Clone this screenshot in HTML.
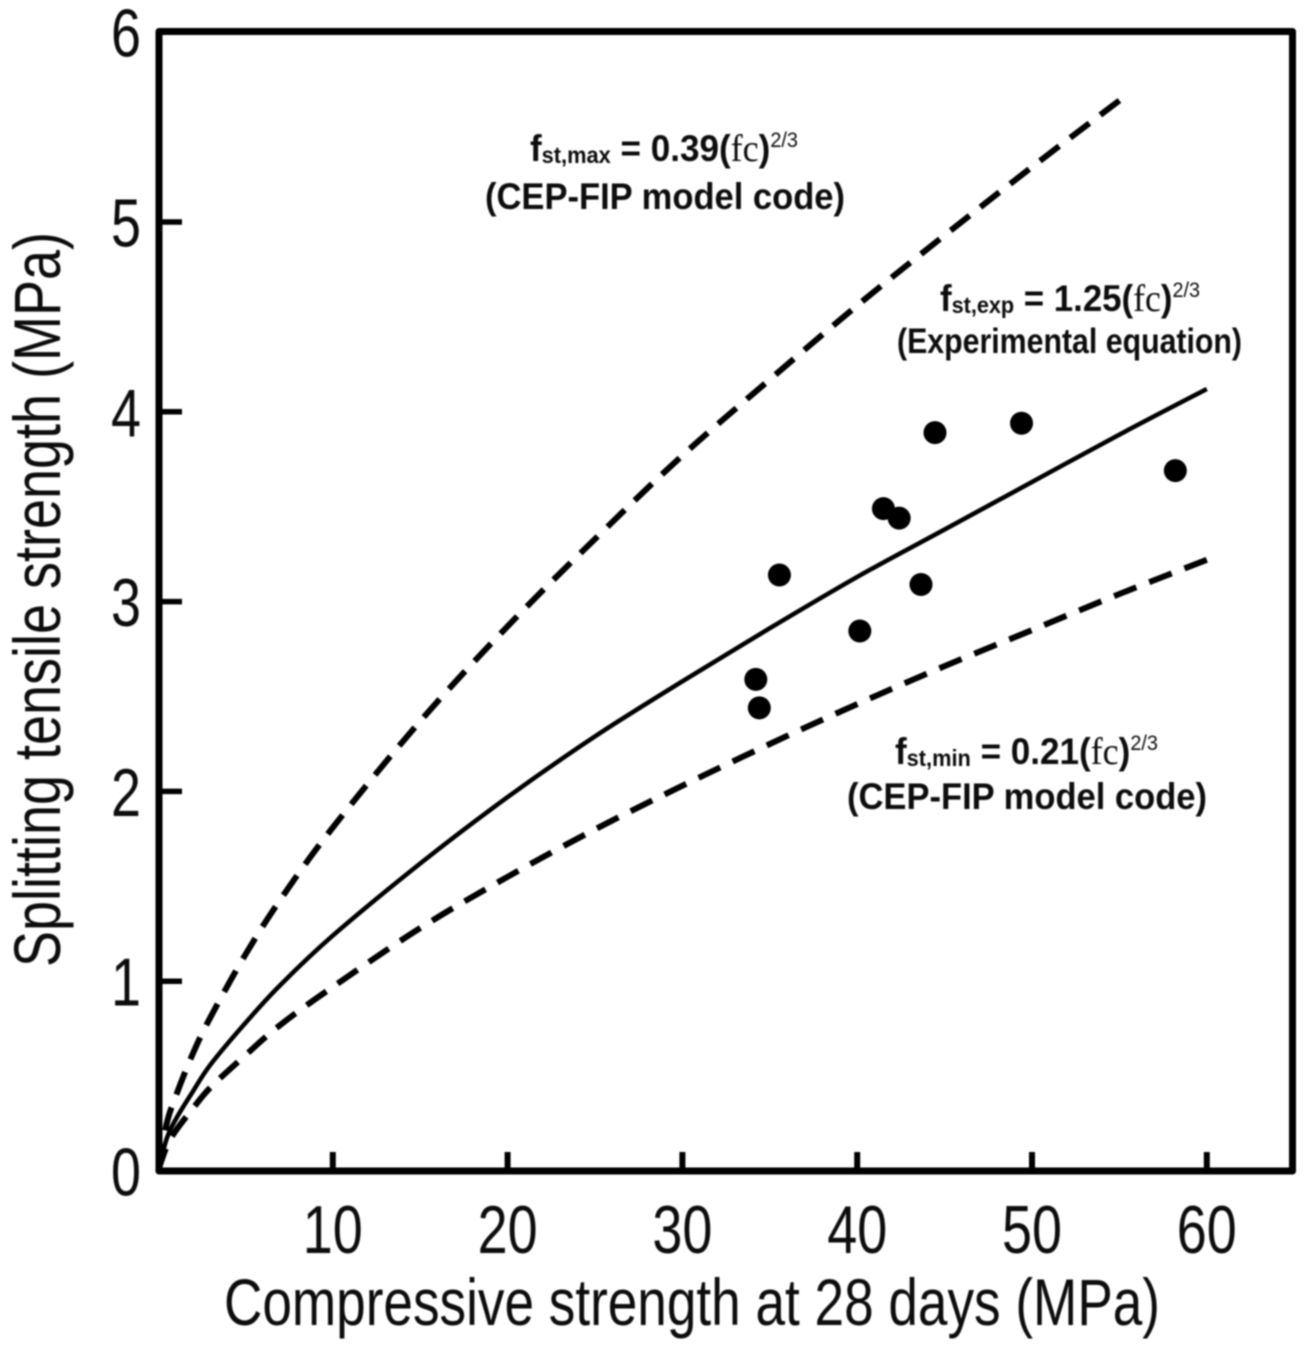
<!DOCTYPE html>
<html lang="en">
<head>
<meta charset="utf-8">
<title>Splitting tensile strength vs compressive strength</title>
<style>
html,body{margin:0;padding:0;background:#fff;width:1312px;height:1349px;overflow:hidden}
svg{display:block}
text{fill:#111;font-family:"Liberation Sans",sans-serif}
.tick{font-size:68px}
.title{font-size:66px}
.eq{font-size:37px;font-weight:bold}
.sub{font-size:23px;font-weight:bold}
.sup{font-size:21px;font-weight:normal}
.ser{font-family:"Liberation Serif",serif;font-weight:normal;font-size:38px}
</style>
</head>
<body>
<svg id="chart" width="1312" height="1349" viewBox="0 0 1312 1349" xmlns="http://www.w3.org/2000/svg">
  <defs><filter id="soft" x="-2%" y="-2%" width="104%" height="104%"><feGaussianBlur stdDeviation="0.8"/></filter></defs>
  <g id="root" filter="url(#soft)">
    <rect x="159" y="31.5" width="1133.5" height="1139.5" fill="none" stroke="#000" stroke-width="7" stroke-linejoin="round"/>
    <g id="ticks"></g>
    <g id="series"></g>
    <g id="points"></g>
    <text class="title" x="224" y="1325" textLength="936" lengthAdjust="spacingAndGlyphs">Compressive strength at 28 days (MPa)</text>
    <text class="title" transform="translate(60 967) rotate(-90)" x="0" y="0" textLength="735" lengthAdjust="spacingAndGlyphs">Splitting tensile strength (MPa)</text>

    <text class="eq" x="530" y="161" textLength="268" lengthAdjust="spacingAndGlyphs">f<tspan class="sub" dy="2">st,max</tspan><tspan dy="-2"> = 0.39(</tspan><tspan class="ser">fc</tspan>)<tspan class="sup" dy="-14">2/3</tspan></text>
    <text class="eq" x="485" y="209" textLength="360" lengthAdjust="spacingAndGlyphs">(CEP-FIP model code)</text>

    <text class="eq" x="940" y="311" textLength="260" lengthAdjust="spacingAndGlyphs">f<tspan class="sub" dy="2">st,exp</tspan><tspan dy="-2"> = 1.25(</tspan><tspan class="ser">fc</tspan>)<tspan class="sup" dy="-14">2/3</tspan></text>
    <text class="eq" x="897" y="353" textLength="345" lengthAdjust="spacingAndGlyphs" style="font-size:35px">(Experimental equation)</text>

    <text class="eq" x="895" y="764" textLength="263" lengthAdjust="spacingAndGlyphs">f<tspan class="sub" dy="2">st,min</tspan><tspan dy="-2"> = 0.21(</tspan><tspan class="ser">fc</tspan>)<tspan class="sup" dy="-14">2/3</tspan></text>
    <text class="eq" x="847" y="809" textLength="360" lengthAdjust="spacingAndGlyphs">(CEP-FIP model code)</text>
  </g>
</svg>
<script>
const xTicks = [10, 20, 30, 40, 50, 60];
const yTicks = [0, 1, 2, 3, 4, 5, 6];

const maxX = [0, 0.5, 1, 2, 3, 5, 7, 10, 15, 20, 25, 30, 35, 40, 45, 50, 55];
const maxY = [0, 0.25, 0.39, 0.62, 0.81, 1.14, 1.43, 1.81, 2.37, 2.87, 3.33, 3.77, 4.17, 4.56, 4.93, 5.29, 5.64];

const expX = [0, 0.5, 1, 2, 3, 5, 7, 10, 15, 20, 25, 30, 35, 40, 45, 50, 55, 60];
const expY = [0, 0.17, 0.27, 0.42, 0.56, 0.78, 0.98, 1.24, 1.62, 1.97, 2.29, 2.58, 2.86, 3.13, 3.38, 3.63, 3.88, 4.12];

const minX = [0, 0.5, 1, 2, 3, 5, 7, 10, 15, 20, 25, 30, 35, 40, 45, 50, 55, 60];
const minY = [0, 0.13, 0.21, 0.33, 0.44, 0.61, 0.77, 0.97, 1.28, 1.55, 1.80, 2.03, 2.25, 2.46, 2.66, 2.85, 3.04, 3.22];

const sampleX = [34.2, 34.4, 35.55, 40.15, 41.5, 42.4, 43.65, 44.45, 49.4, 58.2];
const sampleY = [2.59, 2.44, 3.14, 2.845, 3.49, 3.44, 3.09, 3.89, 3.94, 3.69];

const NS = 'http://www.w3.org/2000/svg';
function sx(v) { return 158 + v * 17.48; }
function sy(v) { return 1171 - v * 189.8; }
function make(tag, attrs, parent) {
  const el = document.createElementNS(NS, tag);
  for (const k in attrs) el.setAttribute(k, attrs[k]);
  parent.appendChild(el);
  return el;
}
function curvePath(xs, ys) {
  const p = xs.map((x, i) => [sx(x), sy(ys[i])]);
  let d = 'M' + p[0][0].toFixed(1) + ' ' + p[0][1].toFixed(1);
  for (let i = 0; i < p.length - 1; i++) {
    const a = p[Math.max(i - 1, 0)], b = p[i], c = p[i + 1], e = p[Math.min(i + 2, p.length - 1)];
    const c1x = b[0] + (c[0] - a[0]) / 6, c1y = b[1] + (c[1] - a[1]) / 6;
    const c2x = c[0] - (e[0] - b[0]) / 6, c2y = c[1] - (e[1] - b[1]) / 6;
    d += 'C' + [c1x, c1y, c2x, c2y, c[0], c[1]].map(n => n.toFixed(1)).join(' ');
  }
  return d;
}
function anchorDashes(path) {
  const dash = 24, gap = 13.8;
  path.setAttribute('stroke-dasharray', dash + ' ' + gap);
  path.setAttribute('stroke-dashoffset', (dash - path.getTotalLength()).toFixed(2));
}

const ticks = document.getElementById('ticks');
xTicks.forEach(function (v) {
  const line = make('line', { x1: sx(v), x2: sx(v), y1: 1171, y2: 1152, stroke: '#000', 'stroke-width': 6 }, ticks);
  
  
  const label = make('text', { class: 'tick', x: sx(v), y: 1253, 'text-anchor': 'middle', textLength: 60, lengthAdjust: 'spacingAndGlyphs' }, ticks);
  label.textContent = String(v);
  
  
});
yTicks.forEach(function (v) {
  if (v > 0 && v < 6) {
    const line = make('line', { x1: 159, x2: 182, y1: sy(v), y2: sy(v), stroke: '#000', 'stroke-width': 5.5 }, ticks);
    
    
  }
  const label = make('text', { class: 'tick', x: 126, y: sy(v) + 24.5, 'text-anchor': 'middle', textLength: 30, lengthAdjust: 'spacingAndGlyphs' }, ticks);
  label.textContent = String(v);
  
  
});

const series = document.getElementById('series');
const maxLine = make('path', { d: curvePath(maxX, maxY), fill: 'none', stroke: '#000', 'stroke-width': 6 }, series);


anchorDashes(maxLine);
const expLine = make('path', { d: curvePath(expX, expY), fill: 'none', stroke: '#000', 'stroke-width': 4.5 }, series);


const minLine = make('path', { d: curvePath(minX, minY), fill: 'none', stroke: '#000', 'stroke-width': 6 }, series);


anchorDashes(minLine);

const points = document.getElementById('points');
sampleX.forEach(function (x, i) {
  const dot = make('circle', { cx: sx(x), cy: sy(sampleY[i]), r: 11.5, fill: '#000' }, points);
  
  
});
</script>
</body>
</html>
